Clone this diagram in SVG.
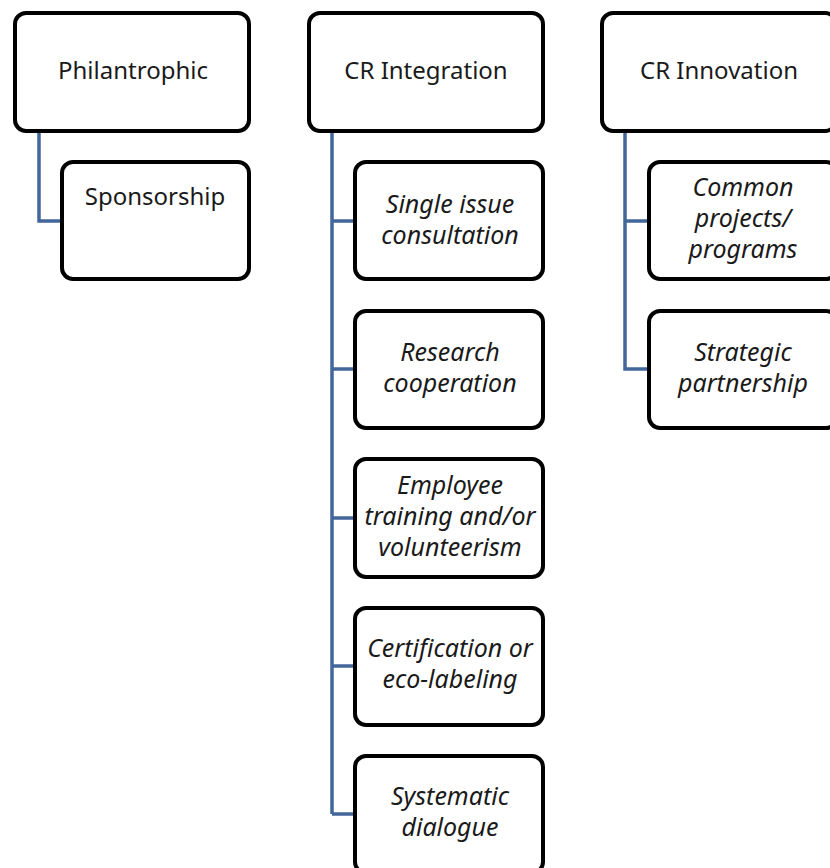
<svg xmlns="http://www.w3.org/2000/svg" width="830" height="868" viewBox="0 0 830 868">
<style>
.box{fill:#fff;stroke:#000;stroke-width:4;}
.t{font-family:"Noto Sans","Open Sans",sans-serif;font-size:24px;fill:#1a1a1a;text-anchor:middle;}
.i{font-style:italic;font-size:25px;}
.c{fill:none;stroke:#43679a;stroke-width:3.5;}
</style>
<rect width="830" height="868" fill="#fff"/>
<g id="connectors">
<path class="c" d="M39,133 V221 H62"/>
<path class="c" d="M332,133 V814 M332,221 H355 M332,369 H355 M332,518 H355 M332,666 H355 M332,814 H355"/>
<path class="c" d="M625,133 V369 H649 M625,221 H649"/>
</g>
<g id="philantrophic"><rect class="box" x="15" y="13" width="234" height="118" rx="11"/><text class="t" x="133" y="79">Philantrophic</text></g>
<g id="sponsorship"><rect class="box" x="62" y="162" width="187" height="117" rx="11"/><text class="t" x="155" y="205">Sponsorship</text></g>
<g id="cr-integration"><rect class="box" x="309" y="13" width="234" height="118" rx="11"/><text class="t" x="426" y="79">CR Integration</text></g>
<g id="single-issue"><rect class="box" x="355" y="162" width="188" height="117" rx="11"/><text class="t i" x="450" y="213">Single issue</text><text class="t i" x="450" y="244">consultation</text></g>
<g id="research"><rect class="box" x="355" y="311" width="188" height="117" rx="11"/><text class="t i" x="450" y="361">Research</text><text class="t i" x="450" y="392">cooperation</text></g>
<g id="employee"><rect class="box" x="355" y="459" width="188" height="118" rx="11"/><text class="t i" x="450" y="494">Employee</text><text class="t i" x="450" y="525">training and/or</text><text class="t i" x="450" y="556">volunteerism</text></g>
<g id="certification"><rect class="box" x="355" y="608" width="188" height="117" rx="11"/><text class="t i" x="450" y="657">Certification or</text><text class="t i" x="450" y="688">eco-labeling</text></g>
<g id="systematic"><rect class="box" x="355" y="756" width="188" height="117" rx="11"/><text class="t i" x="450" y="805">Systematic</text><text class="t i" x="450" y="836">dialogue</text></g>
<g id="cr-innovation"><rect class="box" x="602" y="13" width="234" height="118" rx="11"/><text class="t" x="719" y="79">CR Innovation</text></g>
<g id="common"><rect class="box" x="649" y="162" width="188" height="117" rx="11"/><text class="t i" x="743" y="196">Common</text><text class="t i" x="743" y="227">projects/</text><text class="t i" x="743" y="258">programs</text></g>
<g id="strategic"><rect class="box" x="649" y="311" width="188" height="117" rx="11"/><text class="t i" x="743" y="361">Strategic</text><text class="t i" x="743" y="392">partnership</text></g>
</svg>
